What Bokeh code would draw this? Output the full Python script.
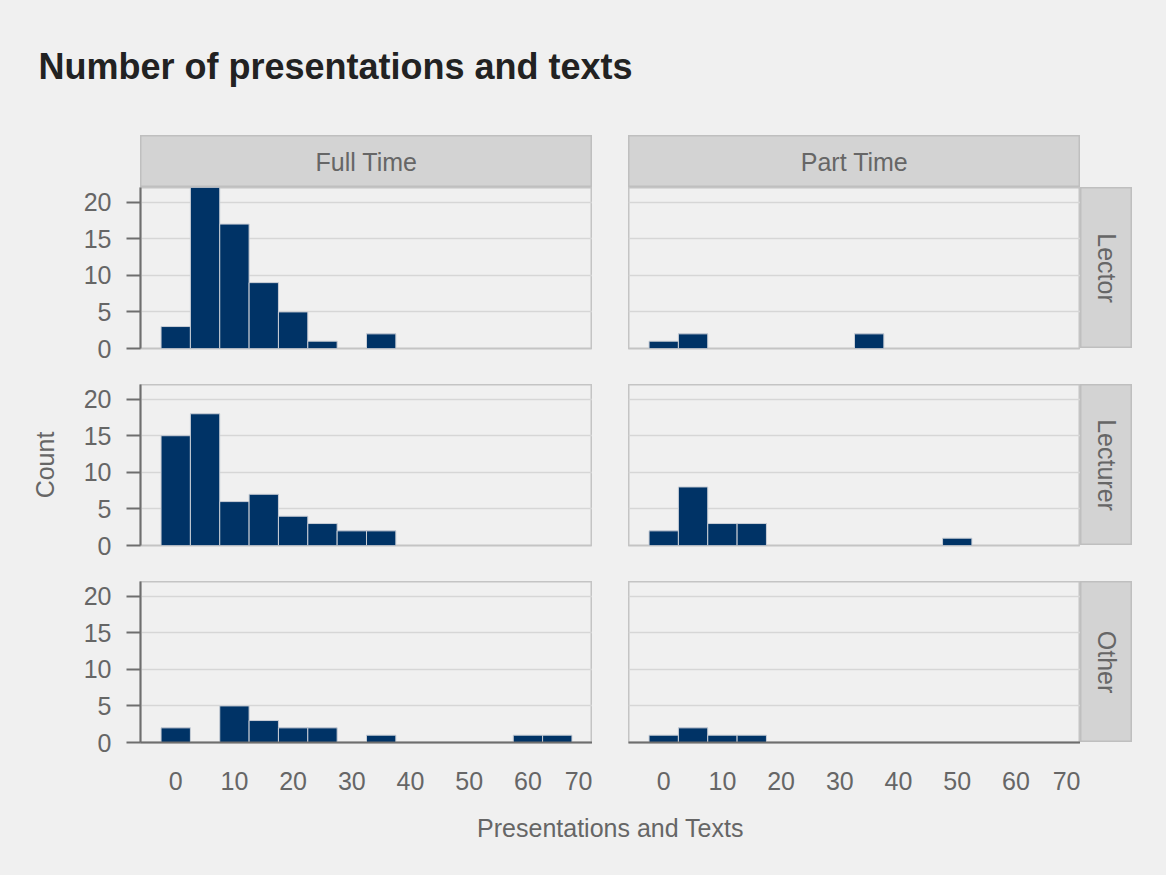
import math
from bokeh.plotting import figure
from bokeh.layouts import column, row
from bokeh.models import Range1d, FixedTicker, Spacer, ColumnDataSource
from bokeh.core.properties import value
from bokeh.embed import file_html
from bokeh.resources import INLINE

# ---------------- data ----------------
title_text = "Number of presentations and texts"
x_label = "Presentations and Texts"
y_label = "Count"
employment = ["Full Time", "Part Time"]
positions = ["Lector", "Lecturer", "Other"]
bin_centers = [0, 5, 10, 15, 20, 25, 30, 35, 40, 45, 50, 55, 60, 65]
bin_width = 5
ft_lector   = [3, 22, 17, 9, 5, 1, 0, 2, 0, 0, 0, 0, 0, 0]
pt_lector   = [1, 2, 0, 0, 0, 0, 0, 2, 0, 0, 0, 0, 0, 0]
ft_lecturer = [15, 18, 6, 7, 4, 3, 2, 2, 0, 0, 0, 0, 0, 0]
pt_lecturer = [2, 8, 3, 3, 0, 0, 0, 0, 0, 0, 1, 0, 0, 0]
ft_other    = [2, 0, 5, 3, 2, 2, 0, 1, 0, 0, 0, 0, 1, 1]
pt_other    = [1, 2, 1, 1, 0, 0, 0, 0, 0, 0, 0, 0, 0, 0]
y_ticks = [0, 5, 10, 15, 20]
x_ticks = [0, 10, 20, 30, 40, 50, 60, 70]
x_limits = (-6, 71)
y_limits = (0, 22)

counts = {
    ("Full Time", "Lector"): ft_lector,
    ("Part Time", "Lector"): pt_lector,
    ("Full Time", "Lecturer"): ft_lecturer,
    ("Part Time", "Lecturer"): pt_lecturer,
    ("Full Time", "Other"): ft_other,
    ("Part Time", "Other"): pt_other,
}

# ---------------- style ----------------
FONT = "Liberation Sans"
BG = "#f0f0f0"
BAR = "#003366"
BAR_LINE = "#c9ced6"
GRID = "#d6d6d6"
OUTLINE = "#c4c4c4"
AXIS = "#6e6e6e"
TEXT = "#666666"
STRIP = "#d3d3d3"
STRIP_LINE = "#bfbfbf"
FS = "25px"

W_LEFT, W_PANEL, GAP, W_STRIP = 140, 452, 36, 52
H_TITLE, H_STRIP, H_PANEL, H_BOTTOM, H_XLAB = 135, 52, 161, 60, 73
PAD = 18  # room under non-bottom rows for the "0" tick label
TOTAL_W = 1166


def base_fig(width, height, **kw):
    return figure(width=width, height=height, output_backend="svg",
                  toolbar_location=None, tools="", min_border=0,
                  frame_align=False,
                  background_fill_color=BG, border_fill_color=BG, **kw)


def panel(cnts, col_i, row_i):
    is_left = col_i == 0
    is_bottom = row_i == len(positions) - 1
    w = W_PANEL + (W_LEFT if is_left else 0)
    bottom = H_BOTTOM if is_bottom else PAD
    p = base_fig(w, H_PANEL + bottom,
                 x_range=Range1d(*x_limits), y_range=Range1d(*y_limits),
                 x_axis_location="below" if is_bottom else None,
                 y_axis_location="left" if is_left else None,
                 outline_line_color=OUTLINE, outline_line_width=2)
    if is_left:
        p.min_border_left = W_LEFT
    p.min_border_bottom = bottom
    for g in p.xgrid:
        g.visible = False
    for g in p.ygrid:
        g.ticker = FixedTicker(ticks=y_ticks)
        g.grid_line_color = GRID
        g.grid_line_width = 1.5
    if is_left:
        ax = p.yaxis[0]
        ax.ticker = FixedTicker(ticks=y_ticks)
        ax.axis_line_color = AXIS
        ax.axis_line_width = 2
        ax.major_tick_line_color = AXIS
        ax.major_tick_line_width = 2
        ax.major_tick_out = 14
        ax.major_tick_in = 0
        ax.minor_tick_out = 0
        ax.minor_tick_in = 0
        ax.major_label_standoff = 15
        ax.major_label_text_font = FONT
        ax.major_label_text_font_size = FS
        ax.major_label_text_color = TEXT
        if row_i == 1:
            ax.axis_label = y_label
            ax.axis_label_text_font = FONT
            ax.axis_label_text_font_size = FS
            ax.axis_label_text_font_style = "normal"
            ax.axis_label_text_color = TEXT
            ax.axis_label_standoff = 22
    if is_bottom:
        ax = p.xaxis[0]
        ax.ticker = FixedTicker(ticks=x_ticks)
        ax.axis_line_color = AXIS
        ax.axis_line_width = 2
        ax.major_tick_out = 0
        ax.major_tick_in = 0
        ax.minor_tick_out = 0
        ax.minor_tick_in = 0
        ax.major_label_standoff = 29
        ax.major_label_text_font = FONT
        ax.major_label_text_font_size = FS
        ax.major_label_text_color = TEXT
    xs = [c for c, n in zip(bin_centers, cnts) if n > 0]
    ns = [n for n in cnts if n > 0]
    src = ColumnDataSource(data=dict(x=xs, top=ns))
    p.vbar(x="x", top="top", bottom=0, width=bin_width, source=src,
           fill_color=BAR, line_color=BAR_LINE, line_width=1)
    return p


def strip(label, w, h, angle=0.0):
    s = base_fig(w, h, x_range=Range1d(0, 1), y_range=Range1d(0, 1),
                 x_axis_location=None, y_axis_location=None,
                 outline_line_color=STRIP_LINE, outline_line_width=2)
    s.background_fill_color = STRIP
    for g in s.grid:
        g.visible = False
    s.text(x=[0.5], y=[0.5], text=[label], angle=angle,
           text_align="center", text_baseline="middle",
           text_font=value(FONT), text_font_size=FS, text_color=TEXT)
    return s


# title
title_fig = base_fig(TOTAL_W, H_TITLE, x_range=Range1d(0, TOTAL_W), y_range=Range1d(0, H_TITLE),
                     x_axis_location=None, y_axis_location=None, outline_line_color=None)
for g in title_fig.grid:
    g.visible = False
title_fig.text(x=[38], y=[H_TITLE - 66], text=[title_text], text_align="left",
               text_baseline="alphabetic",
               text_font=value(FONT), text_font_style="bold", text_font_size="36px",
               text_color="#222222")

# column strips
strip_row = row(Spacer(width=W_LEFT, height=H_STRIP),
                strip(employment[0], W_PANEL, H_STRIP),
                Spacer(width=GAP, height=H_STRIP),
                strip(employment[1], W_PANEL, H_STRIP))

rows = [title_fig, strip_row]
for ri, pos in enumerate(positions):
    if ri > 0:
        rows.append(Spacer(width=TOTAL_W, height=GAP - PAD))
    h = H_PANEL + (H_BOTTOM if ri == len(positions) - 1 else PAD)
    rows.append(row(panel(counts[(employment[0], pos)], 0, ri),
                    Spacer(width=GAP, height=h),
                    panel(counts[(employment[1], pos)], 1, ri),
                    column(strip(pos, W_STRIP, H_PANEL, -math.pi / 2),
                           Spacer(width=W_STRIP, height=h - H_PANEL))))

# x label
xl = base_fig(TOTAL_W, H_XLAB, x_range=Range1d(0, TOTAL_W), y_range=Range1d(0, H_XLAB),
              x_axis_location=None, y_axis_location=None, outline_line_color=None)
for g in xl.grid:
    g.visible = False
xl.text(x=[W_LEFT + W_PANEL + GAP / 2], y=[H_XLAB - 25], text=[x_label],
        text_align="center", text_baseline="middle",
        text_font=value(FONT), text_font_size=FS, text_color=TEXT)
rows.append(xl)

layout = column(*rows, styles={"background-color": BG})

open("out.html", "w").write(file_html(layout, INLINE, title_text))
